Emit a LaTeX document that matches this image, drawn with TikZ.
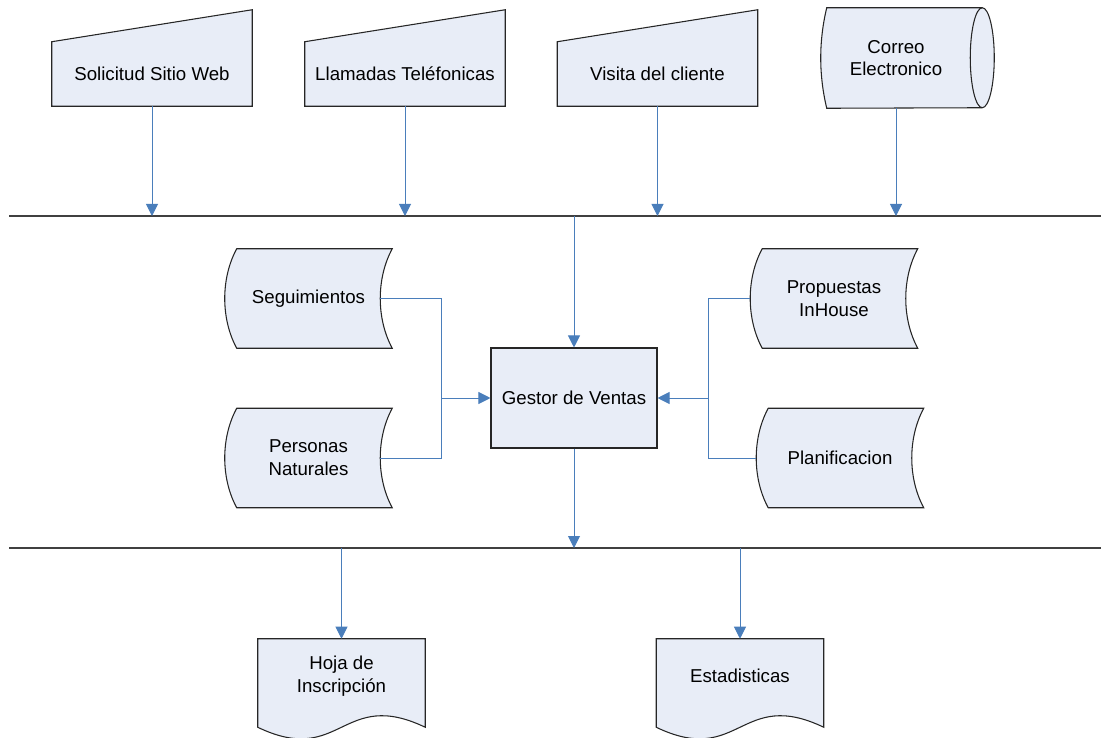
\documentclass[tikz,border=0pt]{standalone}
\usepackage{fontspec}
\setmainfont{Liberation Sans}
\usetikzlibrary{arrows.meta,backgrounds}

\definecolor{boxfill}{HTML}{E8EDF7}
\definecolor{flowblue}{HTML}{4A7EBB}

% outlines drawn round a named node
\newcommand{\manualin}[1]{\draw[outline] (#1.south west) -- (#1.north west) -- ([yshift=24pt]#1.north east) -- (#1.south east) -- cycle;}
\newcommand{\storeddata}[1]{\draw[outline] (#1.north west) -- ([xshift=9pt]#1.north east) .. controls +(-12pt,-22pt) and +(-12pt,22pt) .. ([xshift=9pt]#1.south east) -- (#1.south west) .. controls +(-12pt,22pt) and +(-12pt,-22pt) .. cycle;}
\newcommand{\drumstore}[1]{\draw[outline] ([xshift=4.5pt]#1.north west) -- ([xshift=8.25pt]#1.north east) arc[start angle=90, end angle=-90, x radius=9pt, y radius=37.5pt] -- ([xshift=4.5pt]#1.south west) .. controls +(-6pt,25pt) and +(-6pt,-25pt) .. cycle;
  \draw[outline, fill=none] ([xshift=8.25pt]#1.north east) arc[start angle=90, end angle=270, x radius=9pt, y radius=37.5pt];}
\newcommand{\docpage}[1]{\draw[outline] (#1.north west) -- (#1.north east) -- ([yshift=-10.5pt]#1.south east) .. controls +(-62.6pt,30pt) and +(62.6pt,-30pt) .. ([yshift=-10.5pt]#1.south west) -- cycle;}

\begin{document}
\begin{tikzpicture}[x=0.75pt, y=-0.75pt, font=\fontsize{14}{17}\selectfont,
        outline/.style={draw=black!85, fill=boxfill, line width=0.8pt},
        bus/.style={draw=black!75, line width=1.1pt},
        link/.style={draw=flowblue, line width=0.75pt},
        flow/.style={link, -{Triangle[width=9pt,length=9pt]}},
        manual/.style={minimum width=150pt, minimum height=48pt, inner sep=1pt, align=center},
        stored/.style={minimum width=107.25pt, minimum height=74.25pt, inner sep=1pt, align=center},
        drum/.style={minimum width=112.5pt, minimum height=75pt, inner sep=1pt, align=center},
        process/.style={outline, minimum width=124.5pt, minimum height=75pt, inner sep=1pt, align=center},
        document/.style={minimum width=125.25pt, minimum height=55.5pt, inner sep=1pt, align=center}]

    \useasboundingbox (0,0) rectangle (1101,738);

    % Entradas

    \node [manual] (web) at (152,74) {Solicitud Sitio Web};
    \node [manual] (tel) at (405,74) {Llamadas Teléfonicas};
    \node [manual] (visita) at (657.5,74) {Visita del cliente};
    \node [drum] (correo) at (896,58) {Correo\\Electronico};

    % Buses

    \coordinate (topL) at (9,216);
    \coordinate (topR) at (1101,216);
    \coordinate (botL) at (9,548);
    \coordinate (botR) at (1101,548);
    \draw [bus] (topL) -- (topR);
    \draw [bus] (botL) -- (botR);

    % Gestor y datos

    \node [process] (gestor) at (574,398) {Gestor de Ventas};
    \node [stored] (seg) at (308.5,298.5) {Seguimientos};
    \node [stored] (pers) at (308.5,458) {Personas\\Naturales};
    \node [stored] (prop) at (834,298.5) {Propuestas\\InHouse};
    \node [stored] (plan) at (840,458) {Planificacion};
    \coordinate (jl) at (441,398);
    \coordinate (jr) at (708,398);

    % Salidas

    \node [document] (hoja) at (341.5,676) {Hoja de\\Inscripción};
    \node [document] (estad) at (740,676) {Estadisticas};

    \begin{scope}[on background layer]
        \manualin{web}
        \manualin{tel}
        \manualin{visita}
        \drumstore{correo}
        \storeddata{seg}
        \storeddata{pers}
        \storeddata{prop}
        \storeddata{plan}
        \docpage{hoja}
        \docpage{estad}
    \end{scope}

    % Conectores

    \draw [flow] (web) -- (web |- topL);
    \draw [flow] (tel) -- (tel |- topL);
    \draw [flow] (visita) -- (visita |- topL);
    \draw [flow] (correo) -- (correo |- topL);
    \draw [flow] (gestor |- topL) -- (gestor);
    \draw [link] (seg.east) -| (jl);
    \draw [link] (pers.east) -| (jl);
    \draw [flow] (jl) -- (gestor);
    \draw [link] ([xshift=-9pt]prop.west) -| (jr);
    \draw [link] ([xshift=-9pt]plan.west) -| (jr);
    \draw [flow] (jr) -- (gestor);
    \draw [flow] (gestor) -- (gestor |- botL);
    \draw [flow] (hoja |- botL) -- (hoja);
    \draw [flow] (estad |- botL) -- (estad);
\end{tikzpicture}
\end{document}
